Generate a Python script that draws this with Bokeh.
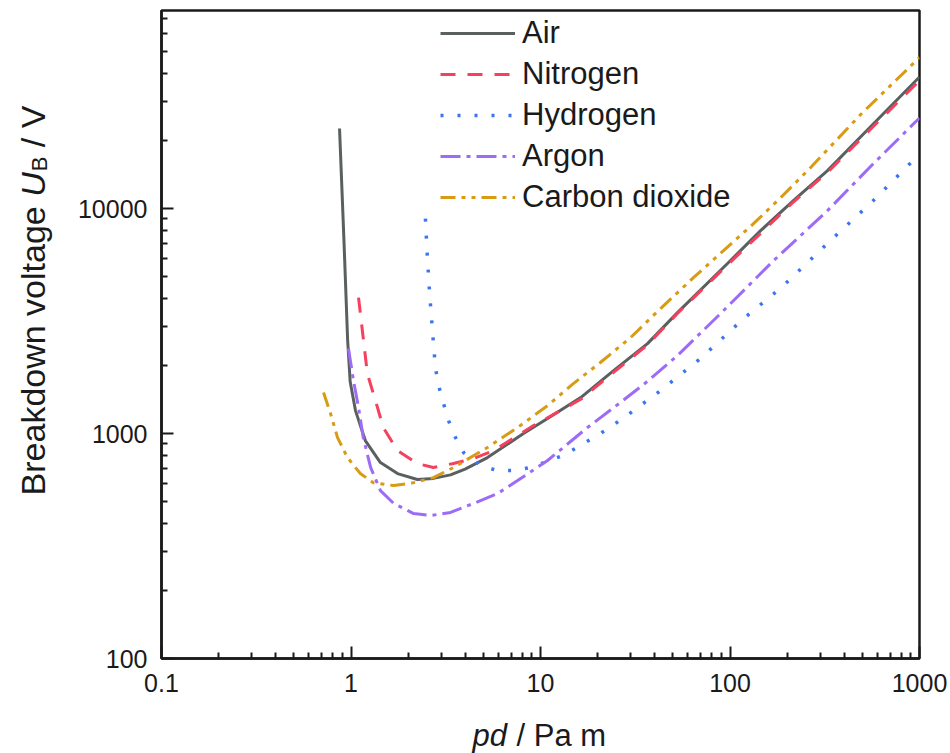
import math
from bokeh.plotting import figure
from bokeh.models import FixedTicker, Legend, LegendItem
from bokeh.core.properties import value
from bokeh.embed import file_html
from bokeh.resources import INLINE

# ---- data ----
air_x = [0.87, 0.918, 0.96, 0.99, 1.056, 1.19, 1.43, 1.76, 2.24, 2.72, 3.35, 4.0, 5.25, 8.13, 10.9, 16.3, 24.3, 36.7, 52.8, 97, 145, 216, 327, 565, 1000]
air_y = [22700, 7210, 2600, 1700, 1265, 931, 743, 664, 625, 632, 655, 695, 782, 1000, 1166, 1446, 1905, 2512, 3450, 5700, 7980, 10860, 14760, 23600, 38500]

n2_x = [1.096, 1.22, 1.38, 1.48, 1.76, 2.24, 2.72, 3.47, 4.43, 5.65, 9.19, 16.3, 24.3, 36.7, 52.8, 97, 216, 327, 565, 1000]
n2_y = [4020, 1848, 1306, 1064, 839, 736, 706, 736, 774, 839, 1086, 1420, 1870, 2480, 3420, 5620, 10700, 14500, 23000, 37100]

h2_x = [2.47, 2.53, 2.60, 2.69, 2.79, 2.90, 3.08, 3.27, 3.56, 3.93, 4.82, 5.93, 7.20, 8.85, 13.1, 15.9, 22.8, 31.0, 43.0, 69.8, 118, 189, 339, 571, 1000]
h2_y = [9030, 6053, 4190, 2872, 1964, 1633, 1359, 1142, 960, 823, 721, 685, 685, 706, 798, 875, 1052, 1265, 1553, 2154, 3245, 4500, 7210, 10860, 17500]

ar_x = [0.97, 1.03, 1.096, 1.16, 1.27, 1.43, 1.68, 2.14, 2.63, 3.35, 4.43, 5.93, 7.57, 10.9, 13.2, 17.7, 26.4, 35.0, 52.8, 89.1, 170, 327, 571, 1000]
ar_y = [2388, 1722, 1306, 960, 706, 558, 489, 441, 432, 446, 489, 541, 618, 759, 867, 1064, 1374, 1652, 2222, 3415, 5875, 9800, 15850, 25300]

co2_x = [0.716, 0.78, 0.849, 0.958, 1.12, 1.31, 1.68, 2.14, 2.72, 3.47, 5.25, 7.57, 10.9, 14.9, 20.7, 29.9, 43.0, 64.1, 92.4, 133, 185, 257, 489, 1000]
co2_y = [1521, 1227, 960, 782, 664, 605, 587, 605, 637, 706, 867, 1064, 1331, 1668, 2070, 2673, 3594, 4932, 6500, 8570, 11190, 14760, 26200, 47000]

series_names = ["Air", "Nitrogen", "Hydrogen", "Argon", "Carbon dioxide"]

x_ticks = [0.1, 1.0, 10.0, 100.0, 1000.0]
x_tick_labels = ["0.1", "1", "10", "100", "1000"]
y_ticks = [100.0, 1000.0, 10000.0]
y_tick_labels = ["100", "1000", "10000"]

FONT = "Liberation Sans"
TXT = "#1a1a1a"

W, H = 950, 753
L, R, T, B = 161, 31, 10, 95
X0, X1 = 0.1, 1000.0
Y0, Y1 = 100.0, 76000.0

p = figure(width=W, height=H, x_axis_type="log", y_axis_type="log",
           x_range=(X0, X1), y_range=(Y0, Y1),
           output_backend="svg", toolbar_location=None,
           min_border_left=L, min_border_right=R, min_border_top=T, min_border_bottom=B)
p.xgrid.visible = False
p.ygrid.visible = False
p.outline_line_color = TXT
p.outline_line_width = 2.5
p.outline_line_alpha = 1
p.background_fill_color = "white"
p.border_fill_color = "white"

x_minor = [m * d for d in [0.1, 1, 10, 100] for m in range(2, 10)]
y_minor = [m * d for d in [100, 1000, 10000] for m in range(2, 10)]

p.xaxis.ticker = FixedTicker(ticks=x_ticks, minor_ticks=x_minor)
p.yaxis.ticker = FixedTicker(ticks=y_ticks, minor_ticks=y_minor)
p.xaxis.major_label_overrides = dict(zip(x_ticks, x_tick_labels))
p.yaxis.major_label_overrides = dict(zip(y_ticks, y_tick_labels))

for ax in (p.xaxis, p.yaxis):
    ax.axis_line_width = 2.5
    ax.axis_line_color = TXT
    ax.major_tick_in = 12
    ax.major_tick_out = 0
    ax.minor_tick_in = 6
    ax.minor_tick_out = 0
    ax.major_tick_line_width = 2
    ax.minor_tick_line_width = 2
    ax.major_tick_line_color = TXT
    ax.minor_tick_line_color = TXT
    ax.major_label_text_font = FONT
    ax.major_label_text_font_size = "25px"
    ax.major_label_text_color = TXT
p.xaxis.major_label_standoff = 15
p.yaxis.major_label_standoff = 14

r_air = p.line(air_x, air_y, line_color="#59605f", line_width=3)
r_n2 = p.line(n2_x, n2_y, line_color="#f5405e", line_width=3, line_dash="15 12")
r_h2 = p.line(h2_x, h2_y, line_color="#3b75f0", line_width=3.5, line_dash="3 14")
r_ar = p.line(ar_x, ar_y, line_color="#9d6cf7", line_width=3, line_dash="20 6 4 6")
r_co2 = p.line(co2_x, co2_y, line_color="#d99b14", line_width=3, line_dash="15 6 4 6 4 6")

items = [LegendItem(label=n, renderers=[r]) for n, r in zip(series_names, [r_air, r_n2, r_h2, r_ar, r_co2])]
legend = Legend(items=items, location=(279, 443), glyph_width=75, glyph_height=36,
                spacing=5, label_standoff=7, padding=0, margin=0,
                label_text_font=FONT, label_text_font_size="31px", label_text_color=TXT,
                border_line_alpha=0, background_fill_alpha=0)
p.add_layout(legend)

# helpers: page pixel -> data coordinate (for placing axis titles outside the frame)
fw = W - L - R
fh = H - T - B
def dx(px):
    return 10 ** (math.log10(X0) + (px - L) / fw * (math.log10(X1) - math.log10(X0)))
def dy(py):
    return 10 ** (math.log10(Y0) + (H - B - py) / fh * (math.log10(Y1) - math.log10(Y0)))

def add_text(px, py, t, fs, style="normal", angle=0.0):
    p.text(x=[dx(px)], y=[dy(py)], text=[t], angle=angle, text_align="left",
           text_baseline="middle", text_font=value(FONT), text_font_size=f"{fs}px",
           text_font_style=style, text_color=TXT, level="overlay")

# y-axis title (rotated), pieces for italic U and subscript B
ys = 34
yx = 32
w_bv = 8.504 * ys
w_sp = 0.278 * ys
total = w_bv + w_sp + 0.722 * ys + 1 + 0.667 * 22 + w_sp + 1.223 * ys
ystart = 300 + total / 2
pu = ystart - w_bv - w_sp
pb = pu - 0.722 * ys - 1
pv = pb - 0.667 * 22 - w_sp
add_text(yx, ystart, "Breakdown voltage", ys, angle=math.pi / 2)
add_text(yx, pu, "U", ys, style="italic", angle=math.pi / 2)
add_text(yx + 7, pb, "B", 22, angle=math.pi / 2)
add_text(yx, pv, "/ V", ys, angle=math.pi / 2)

# x-axis title
xs = 31
xl0 = 472
add_text(xl0, 735, "pd", xs, style="italic")
add_text(xl0 + 1.112 * xs + 0.278 * xs + 1, 735, "/ Pa m", xs)

open("out.html", "w").write(file_html(p, INLINE))
